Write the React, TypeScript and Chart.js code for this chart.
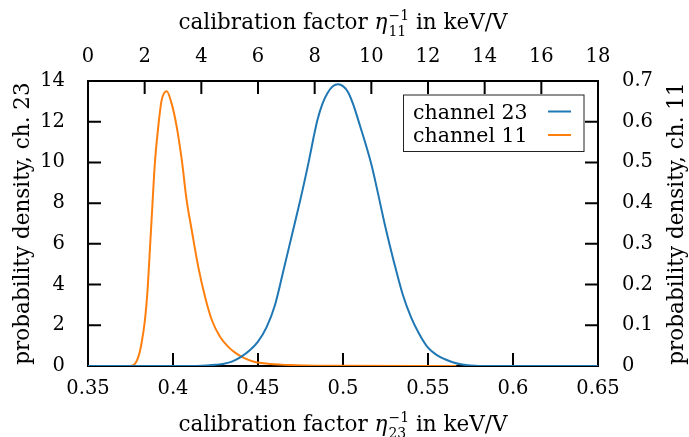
import React, { useEffect, useRef } from "react";
import { Chart, registerables } from "chart.js";

Chart.register(...registerables);

// ---- data ----
// channel 23: calibration factor (bottom axis) vs probability density (left axis)
const ch23X = [0.35, 0.41, 0.42, 0.425, 0.43, 0.435, 0.44, 0.445, 0.45, 0.455, 0.46, 0.465, 0.47, 0.475, 0.48, 0.4825, 0.485, 0.488, 0.491, 0.494, 0.497, 0.5, 0.503, 0.506, 0.51, 0.5135, 0.517, 0.52, 0.525, 0.53, 0.535, 0.54, 0.545, 0.55, 0.555, 0.56, 0.565, 0.57, 0.575, 0.58, 0.65];
const ch23Y = [0, 0, 0.03, 0.06, 0.11, 0.23, 0.45, 0.76, 1.2, 1.9, 3.0, 4.7, 6.45, 8.2, 10.1, 11.15, 12.1, 12.9, 13.42, 13.74, 13.84, 13.75, 13.45, 12.85, 11.8, 10.85, 9.8, 8.7, 6.8, 5.1, 3.55, 2.4, 1.55, 0.9, 0.55, 0.33, 0.17, 0.07, 0.02, 0, 0];
// channel 11: calibration factor (top axis) vs probability density (right axis)
const ch11X = [1.2, 1.45, 1.6, 1.78, 1.89, 2.01, 2.11, 2.19, 2.27, 2.36, 2.48, 2.6, 2.78, 2.95, 3.13, 3.31, 3.48, 3.66, 3.89, 4.13, 4.37, 4.66, 4.95, 5.19, 5.5, 5.83, 6.42, 7.36, 9.0, 13.0];
const ch11Y = [0, 0, 0.002, 0.023, 0.056, 0.113, 0.195, 0.293, 0.391, 0.498, 0.588, 0.653, 0.675, 0.645, 0.588, 0.506, 0.408, 0.334, 0.244, 0.17, 0.113, 0.072, 0.047, 0.033, 0.02, 0.011, 0.005, 0.002, 0.0005, 0];

const seriesNames = ["channel 23", "channel 11"];
const seriesColors = ["#1f77b4", "#ff7f0e"];

// axis ranges and tick steps
const bottomRange = [0.35, 0.65, 0.05];
const topRange = [0, 18, 2];
const leftRange = [0, 14, 2];
const rightRange = [0, 0.7, 0.1];

const yLeftTitle = "probability density, ch. 23";
const yRightTitle = "probability density, ch. 11";
const xTitlePre = "calibration factor ";
const xTitleEta = "η";
const xTitleSup = "−1";
const xTitlePost = " in keV/V";
const xBottomSub = "23";
const xTopSub = "11";

const FONT = '"DejaVu Serif", serif';
const FS = 19.5;      // tick labels
const TFS = 21.5;     // axis titles
const LFS = 20.5;     // legend

const fmt = (v: number) => String(Number(Number(v).toFixed(2)));

function drawEtaTitle(ctx: CanvasRenderingContext2D, cx: number, baseline: number, sub: string) {
  const main = `${TFS}px ${FONT}`;
  const ital = `italic ${TFS}px ${FONT}`;
  const small = `${TFS * 0.65}px ${FONT}`;
  ctx.font = main;
  const wPre = ctx.measureText(xTitlePre).width;
  const wPost = ctx.measureText(xTitlePost).width;
  ctx.font = ital;
  const wEta = ctx.measureText(xTitleEta).width;
  ctx.font = small;
  const wSup = ctx.measureText(xTitleSup).width;
  const wSub = ctx.measureText(sub).width;
  const wScript = Math.max(wSup, wSub);
  const total = wPre + wEta + 1 + wScript + wPost;
  let x = cx - total / 2;
  ctx.textAlign = "left";
  ctx.textBaseline = "alphabetic";
  ctx.fillStyle = "#000";
  ctx.font = main;
  ctx.fillText(xTitlePre, x, baseline);
  x += wPre;
  ctx.font = ital;
  ctx.fillText(xTitleEta, x, baseline);
  x += wEta + 1;
  ctx.font = small;
  ctx.fillText(xTitleSup, x, baseline - TFS * 0.4);
  ctx.fillText(sub, x, baseline + TFS * 0.36);
  x += wScript;
  ctx.font = main;
  ctx.fillText(xTitlePost, x, baseline);
}

function drawRotated(ctx: CanvasRenderingContext2D, text: string, bx: number, cy: number) {
  ctx.save();
  ctx.translate(bx, cy);
  ctx.rotate(-Math.PI / 2);
  ctx.font = `${TFS}px ${FONT}`;
  ctx.textAlign = "center";
  ctx.textBaseline = "alphabetic";
  ctx.fillStyle = "#000";
  ctx.fillText(text, 0, 0);
  ctx.restore();
}

const innerTicks = {
  id: "innerTicks",
  beforeDatasetsDraw(chart: any) {
    const ctx = chart.ctx as CanvasRenderingContext2D;
    const a = chart.chartArea;
    const L = 13;
    ctx.save();
    ctx.strokeStyle = "#000";
    ctx.lineWidth = 2;
    ctx.beginPath();
    const sx = chart.scales.x, sx2 = chart.scales.x2, sy = chart.scales.y, sy2 = chart.scales.y2;
    sx.ticks.forEach((t: any) => {
      const p = sx.getPixelForValue(t.value);
      if (p > a.left + 2 && p < a.right - 2) { ctx.moveTo(p, a.bottom); ctx.lineTo(p, a.bottom - L); }
    });
    sx2.ticks.forEach((t: any) => {
      const p = sx2.getPixelForValue(t.value);
      if (p > a.left + 2 && p < a.right - 2) { ctx.moveTo(p, a.top); ctx.lineTo(p, a.top + L); }
    });
    sy.ticks.forEach((t: any) => {
      const p = sy.getPixelForValue(t.value);
      if (p > a.top + 2 && p < a.bottom - 2) { ctx.moveTo(a.left, p); ctx.lineTo(a.left + L, p); }
    });
    sy2.ticks.forEach((t: any) => {
      const p = sy2.getPixelForValue(t.value);
      if (p > a.top + 2 && p < a.bottom - 2) { ctx.moveTo(a.right, p); ctx.lineTo(a.right - L, p); }
    });
    ctx.stroke();
    ctx.restore();
  },
  afterDraw(chart: any) {
    const ctx = chart.ctx as CanvasRenderingContext2D;
    const a = chart.chartArea;
    ctx.save();
    // legend
    const bx = 403.5, by = 95, bw = 180.5, bh = 56.5;
    ctx.fillStyle = "#fff";
    ctx.fillRect(bx, by, bw, bh);
    ctx.strokeStyle = "#222";
    ctx.lineWidth = 1;
    ctx.strokeRect(bx, by, bw, bh);
    ctx.font = `${LFS}px ${FONT}`;
    ctx.textAlign = "left";
    ctx.textBaseline = "alphabetic";
    const rows = [118.5, 142];
    const lineY = [111.5, 135];
    seriesNames.forEach((n, i) => {
      ctx.fillStyle = "#000";
      ctx.fillText(n, 413, rows[i]);
      ctx.strokeStyle = seriesColors[i];
      ctx.lineWidth = 2;
      ctx.beginPath();
      ctx.moveTo(548, lineY[i]);
      ctx.lineTo(571, lineY[i]);
      ctx.stroke();
    });
    // axis titles
    const cx = (a.left + a.right) / 2;
    const cy = (a.top + a.bottom) / 2;
    drawEtaTitle(ctx, cx, 28.5, xTopSub);
    drawEtaTitle(ctx, cx, 430.5, xBottomSub);
    drawRotated(ctx, yLeftTitle, 28.5, cy);
    drawRotated(ctx, yRightTitle, 683, cy);
    ctx.restore();
  },
};

const tickFont = { family: FONT, size: FS };

export default function App() {
  const ref = useRef<HTMLCanvasElement | null>(null);
  useEffect(() => {
    if (!ref.current) return;
    const chart = new Chart(ref.current, {
      type: "line",
      data: {
        datasets: [
          {
            label: seriesNames[0],
            data: ch23X.map((x, i) => ({ x, y: ch23Y[i] })),
            borderColor: seriesColors[0],
            backgroundColor: seriesColors[0],
            borderWidth: 2,
            pointRadius: 0,
            cubicInterpolationMode: "monotone",
            xAxisID: "x",
            yAxisID: "y",
          },
          {
            label: seriesNames[1],
            data: ch11X.map((x, i) => ({ x, y: ch11Y[i] })),
            borderColor: seriesColors[1],
            backgroundColor: seriesColors[1],
            borderWidth: 2,
            pointRadius: 0,
            cubicInterpolationMode: "monotone",
            xAxisID: "x2",
            yAxisID: "y2",
          },
        ],
      },
      options: {
        responsive: false,
        animation: false,
        layout: { padding: 0 },
        plugins: { legend: { display: false }, tooltip: { enabled: false } },
        scales: {
          x: {
            type: "linear",
            position: "bottom",
            min: bottomRange[0],
            max: bottomRange[1],
            ticks: { stepSize: bottomRange[2], padding: 11.5, font: tickFont, color: "#000", maxRotation: 0, autoSkip: false, callback: (v: any) => fmt(v) },
            grid: { display: false, drawTicks: false },
            border: { display: true, color: "#000", width: 2 },
            afterFit: (s: any) => { s.height = 71; },
          },
          x2: {
            type: "linear",
            position: "top",
            min: topRange[0],
            max: topRange[1],
            ticks: { stepSize: topRange[2], padding: 12, font: tickFont, color: "#000", maxRotation: 0, autoSkip: false, callback: (v: any) => fmt(v) },
            grid: { display: false, drawTicks: false },
            border: { display: true, color: "#000", width: 2 },
            afterFit: (s: any) => { s.height = 81; },
          },
          y: {
            type: "linear",
            position: "left",
            min: leftRange[0],
            max: leftRange[1],
            ticks: { stepSize: leftRange[2], padding: 23, font: tickFont, color: "#000", autoSkip: false, callback: (v: any) => fmt(v) },
            grid: { display: false, drawTicks: false },
            border: { display: true, color: "#000", width: 2 },
            afterFit: (s: any) => { s.width = 88; },
          },
          y2: {
            type: "linear",
            position: "right",
            min: rightRange[0],
            max: rightRange[1],
            ticks: { stepSize: rightRange[2], padding: 24, font: tickFont, color: "#000", autoSkip: false, callback: (v: any) => fmt(v) },
            grid: { display: false, drawTicks: false },
            border: { display: true, color: "#000", width: 2 },
            afterFit: (s: any) => { s.width = 91; },
          },
        },
      },
      plugins: [innerTicks],
    } as any);
    return () => chart.destroy();
  }, []);
  return (
    <div style={{ position: "absolute", left: 0, top: 0, width: 689, height: 437, background: "#fff" }}>
      <canvas ref={ref} width={689} height={437} style={{ display: "block" }} />
    </div>
  );
}
